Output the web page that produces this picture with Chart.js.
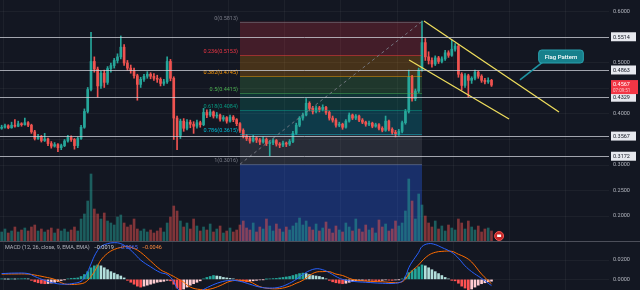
<!DOCTYPE html>
<html>
<head>
<meta charset="utf-8">
<title>Flag Pattern</title>
<script src="https://cdn.jsdelivr.net/npm/chart.js@4/dist/chart.umd.min.js"></script>
<style>
body { margin: 0; background: #131722; }
#wrap { position: relative; width: 640px; height: 290px; overflow: hidden; background: #131722; }
#price { position: absolute; left: 0; top: 0; }
#sep { position: absolute; left: 0; top: 241px; width: 640px; height: 1px; background: #4c4f5a; }
#macd { position: absolute; left: 0; top: 242px; }
</style>
</head>
<body>
<div id="wrap">
  <canvas id="price" width="640" height="241"></canvas>
  <div id="sep"></div>
  <canvas id="macd" width="640" height="48"></canvas>
</div>
<script>
// candles (one per slot, left to right)
const open = [
  0.372,0.374,0.377,0.373,0.378,0.376,0.381,0.379,0.383,
  0.378,0.365,0.352,0.356,0.348,0.351,0.342,0.337,0.340,0.334,
  0.338,0.347,0.354,0.350,0.338,0.352,0.374,0.405,0.448,0.503,
  0.488,0.455,0.480,0.462,0.489,0.495,0.505,0.512,0.531,0.500,
  0.490,0.485,0.475,0.458,0.468,0.474,0.478,0.474,0.470,0.468,
  0.460,0.463,0.503,0.470,0.392,0.358,0.386,0.372,0.384,0.380,
  0.376,0.383,0.379,0.403,0.398,0.404,0.396,0.398,0.390,0.393,
  0.386,0.394,0.389,0.381,0.368,0.357,0.352,0.347,0.353,0.349,
  0.345,0.350,0.342,0.344,0.348,0.341,0.339,0.343,0.341,0.346,
  0.362,0.378,0.392,0.398,0.421,0.411,0.405,0.412,0.409,0.413,
  0.403,0.392,0.388,0.378,0.380,0.374,0.386,0.398,0.392,0.396,
  0.388,0.384,0.380,0.382,0.376,0.379,0.372,0.368,0.386,0.370,
  0.364,0.361,0.366,0.383,0.405,0.472,0.430,0.445,0.486,0.540,
  0.512,0.505,0.498,0.510,0.503,0.508,0.520,0.515,0.527,0.533,
  0.478,0.456,0.475,0.466,0.470,0.482,0.474,0.466,0.463,0.466
];
const high = [
  0.378,0.380,0.379,0.384,0.389,0.386,0.383,0.392,0.385,
  0.380,0.368,0.360,0.358,0.362,0.353,0.346,0.344,0.342,0.341,
  0.350,0.358,0.357,0.352,0.355,0.378,0.410,0.452,0.560,0.512,
  0.492,0.484,0.486,0.493,0.500,0.509,0.518,0.553,0.536,0.505,
  0.496,0.490,0.478,0.472,0.478,0.483,0.481,0.479,0.476,0.471,
  0.468,0.512,0.507,0.473,0.396,0.390,0.391,0.389,0.388,0.385,
  0.388,0.386,0.411,0.408,0.409,0.406,0.403,0.400,0.397,0.395,
  0.398,0.397,0.391,0.383,0.371,0.360,0.356,0.358,0.355,0.352,
  0.355,0.353,0.348,0.352,0.350,0.344,0.347,0.345,0.350,0.366,
  0.382,0.395,0.402,0.430,0.424,0.415,0.416,0.415,0.418,0.415,
  0.406,0.396,0.391,0.384,0.382,0.389,0.402,0.400,0.399,0.398,
  0.391,0.386,0.386,0.384,0.382,0.381,0.375,0.396,0.388,0.373,
  0.368,0.370,0.386,0.409,0.486,0.476,0.449,0.490,0.582,0.548,
  0.522,0.510,0.514,0.513,0.512,0.525,0.524,0.545,0.538,0.536,
  0.481,0.479,0.478,0.473,0.486,0.484,0.477,0.470,0.471,0.468
];
const low = [
  0.370,0.372,0.371,0.372,0.374,0.375,0.376,0.378,0.375,
  0.362,0.349,0.350,0.345,0.346,0.338,0.333,0.335,0.326,0.330,
  0.336,0.345,0.346,0.331,0.334,0.350,0.372,0.402,0.445,0.482,
  0.433,0.450,0.452,0.458,0.482,0.490,0.500,0.508,0.495,0.486,
  0.480,0.470,0.427,0.452,0.464,0.470,0.469,0.466,0.462,0.455,
  0.456,0.460,0.465,0.350,0.330,0.352,0.366,0.369,0.373,0.362,
  0.372,0.374,0.377,0.393,0.395,0.392,0.392,0.386,0.386,0.382,
  0.384,0.385,0.377,0.364,0.353,0.348,0.343,0.345,0.344,0.340,
  0.343,0.338,0.318,0.340,0.337,0.334,0.336,0.336,0.338,0.344,
  0.360,0.375,0.388,0.396,0.406,0.400,0.402,0.404,0.406,0.399,
  0.388,0.384,0.374,0.375,0.370,0.372,0.384,0.389,0.389,0.385,
  0.381,0.376,0.377,0.373,0.374,0.369,0.365,0.366,0.367,0.360,
  0.355,0.358,0.363,0.380,0.402,0.425,0.426,0.442,0.484,0.505,
  0.498,0.492,0.495,0.499,0.500,0.505,0.511,0.513,0.523,0.472,
  0.447,0.452,0.433,0.460,0.467,0.470,0.462,0.459,0.460,0.454
];
const close = [
  0.374,0.377,0.373,0.378,0.376,0.381,0.379,0.383,0.378,
  0.365,0.352,0.356,0.348,0.351,0.342,0.337,0.340,0.334,0.338,
  0.347,0.354,0.350,0.338,0.352,0.374,0.405,0.448,0.503,0.488,
  0.455,0.480,0.462,0.489,0.495,0.505,0.512,0.531,0.500,0.490,
  0.485,0.475,0.458,0.468,0.474,0.478,0.474,0.470,0.468,0.460,
  0.463,0.503,0.470,0.392,0.358,0.386,0.372,0.384,0.380,0.376,
  0.383,0.379,0.403,0.398,0.404,0.396,0.398,0.390,0.393,0.386,
  0.394,0.389,0.381,0.368,0.357,0.352,0.347,0.353,0.349,0.345,
  0.350,0.342,0.344,0.348,0.341,0.339,0.343,0.341,0.346,0.362,
  0.378,0.392,0.398,0.421,0.411,0.405,0.412,0.409,0.413,0.403,
  0.392,0.388,0.378,0.380,0.374,0.386,0.398,0.392,0.396,0.388,
  0.384,0.380,0.382,0.376,0.379,0.372,0.368,0.386,0.370,0.364,
  0.361,0.366,0.383,0.405,0.472,0.430,0.445,0.486,0.540,0.512,
  0.505,0.498,0.510,0.503,0.508,0.520,0.515,0.527,0.533,0.478,
  0.456,0.475,0.466,0.470,0.482,0.474,0.466,0.463,0.466,0.4567
];
// volume in millions
const volume = [
  4.5,6,4,5,7,4.5,5.5,6.5,5,
  7,8,5,6,4.5, 5.5,6.5,4,6,5, 6,4.5,5.5,7,5,
  11,13.5,20,33.5,16,13.5, 11,14,10,9,8,12, 13,9,7,8,11,6,
  5,6,4.5,5.5,4,5,6.5,4.5, 9,12,17.5,15, 10,7,9,6,11,7.5,5,
  7,5.5,8.5,4.5,6,7.5,4,5,6.5,4.5,5.5,
  8,10,6.5,5.5,9,4.5,7,6,11,7.5,5,8.5,6,4.5,7,5.5,
  7.5,9,11.5,8,10, 7,5.5,8.5,5,6.5,9.5,6,4,7.5,5.5,4.5,9,7,
  5,11,6,4.5,8,5.5,6.5,4,10.5,7,8.5,5,6,10,7.5,9,
  15,31,20,11,23.5,18, 12.5,9,7,10,6,7.5,5,8,6.5,5.5,
  11,9,6,10,7,5.5,7.5,4.5,6,6.5,5
];
const macdHist = [
  0.0005,0.0003,0.0002,0.0004,0.0003,0.0005,0.0006,0.0008,0.0005,
  -0.001,-0.0025,-0.0035,-0.0042,-0.0045,-0.0043,-0.0038,-0.003,-0.0022,
  -0.0012,-0.0003,0.0005,0.001,0.0012,0.0015,
  0.003,0.005,0.008,0.012,0.014,0.015,
  0.014,0.012,0.010,0.008,0.0065,0.005,
  0.0035,0.0015,-0.001,-0.003,-0.005,
  -0.007,-0.008,-0.007,-0.006,-0.005,
  -0.004,-0.003,-0.0025,-0.002,-0.001,-0.0015,
  -0.005,-0.009,-0.011,-0.010,
  -0.008,-0.006,-0.0045,-0.003,-0.0015,
  0.0005,0.002,0.003,0.004,0.0035,0.003,0.002,0.0015,
  0.001,0.0005,-0.0005,-0.001,
  -0.002,-0.0025,-0.002,-0.0015,-0.001,-0.0005,
  -0.0003,0.0002,0.0005,0.0008,0.001,0.0015,0.002,0.0025,
  0.003,0.004,0.005,0.006,0.0065,0.006,
  0.005,0.004,0.0035,0.003,0.002,
  0.0005,-0.001,-0.0025,-0.0035,-0.004,-0.0045,-0.004,-0.003,
  -0.002,-0.0015,-0.0015,-0.001,-0.0012,-0.0008,-0.001,-0.0012,
  -0.0015,-0.001,-0.0005,-0.0008,-0.001,-0.0006,-0.0003,0.0005,
  0.0025,0.007,0.009,0.011,0.013,0.015,0.014,
  0.012,0.010,0.008,0.006,0.004,0.002,0.0005,
  -0.001,-0.0015,-0.004,-0.007,-0.009,
  -0.011,-0.010,-0.008,-0.006,-0.0045,-0.0035,-0.0025,-0.0019
];
const lineIdx = [0,4,8,10,13,16,19,22,24,25,26,27,28,29,30,32,34,36,38,40,
  42,45,48,50,52,53,55,57,60,63,66,69,72,75,78,81,84,87,89,91,
  93,95,97,99,101,103,106,110,115,119,121,122,123,124,126,127,129,131,133,136,
  138,140,142,145,148];
const macdLine = [0.006,0.0065,0.006,0.003,-0.001,-0.004,-0.005,-0.004,-0.002,0.002,
  0.008,0.016,0.024,0.030,0.034,0.037,0.038,0.037,0.033,0.027,
  0.020,0.013,0.007,0.005,-0.002,-0.009,-0.014,-0.015,-0.012,-0.007,
  -0.003,-0.001,-0.002,-0.005,-0.008,-0.009,-0.008,-0.004,0,0.005,
  0.009,0.011,0.010,0.007,0.003,0,-0.002,-0.003,-0.004,-0.004,
  -0.002,0.003,0.012,0.018,0.028,0.034,0.037,0.036,0.033,0.028,
  0.022,0.014,0.008,0.001,-0.0065];
const signalLine = [0.0055,0.0056,0.0055,0.0045,0.0025,0,-0.0047,-0.0052,-0.0045,-0.0035,
  -0.001,0.003,0.008,0.014,0.020,0.027,0.031,0.033,0.034,0.032,
  0.028,0.019,0.010,0.0065,0.003,0.001,-0.003,-0.008,-0.0105,-0.010,
  -0.0065,-0.002,-0.001,-0.0025,-0.0075,-0.0095,-0.0095,-0.007,-0.004,-0.001,
  0.004,0.0075,0.008,0.008,0.0055,0.004,0,-0.0018,-0.0025,-0.0034,
  -0.0025,0.0005,0.005,0.009,0.015,0.019,0.025,0.028,0.029,0.029,
  0.026,0.023,0.018,0.0055,-0.0046];

const priceTicks = [0.2, 0.25, 0.3, 0.35, 0.4, 0.45, 0.5, 0.55, 0.6];
const hiddenTicks = [0.35, 0.45, 0.55];
const macdTicks = [0, 0.02];
const levels = [0.5514, 0.4863, 0.4329, 0.3567, 0.3172];
const lastPrice = 0.4567;
const countdown = '07:09:51';

const fibLevels = [0, 0.236, 0.382, 0.5, 0.618, 0.786, 1, 1.618];
const fibColors = ['#787b86', '#f23645', '#ff9800', '#4caf50', '#089981', '#00bcd4', '#787b86', '#2962ff'];
const fibTop = 0.5813, fibBottom = 0.3016, fibStart = 72, fibEnd = 127;

const flagUpper = [{x: 127.6, y: 0.5824}, {x: 168.4, y: 0.4039}];
const flagLower = [{x: 123.1, y: 0.5059}, {x: 153.3, y: 0.3902}];
const note = {text: 'Flag Pattern', x: 169, y: 0.5127, tipX: 156.6, tipY: 0.4667};
const marker = {x: 150.3, v: 2.5};

const xMin = -0.5, xMax = 183.5;
const gridX = [9, 26, 43, 60, 77, 94, 111, 128, 145, 162, 179];
const upColor = '#26a69a', downColor = '#ef5350';
const gridColor = 'rgba(255,255,255,0.045)';
const tickColor = '#b2b5be';
const fontFamily = 'Roboto, "DejaVu Sans", sans-serif';

Chart.defaults.font.family = fontFamily;

function rgba(hex, a) {
  const n = parseInt(hex.slice(1), 16);
  return `rgba(${n >> 16},${(n >> 8) & 255},${n & 255},${a})`;
}
function fibPrice(lv) { return fibTop - lv * (fibTop - fibBottom); }
function isUp(i) { return close[i] >= open[i]; }

const xScale = {
  type: 'linear', min: xMin, max: xMax, offset: false,
  ticks: { display: false },
  grid: { color: gridColor, drawTicks: false },
  border: { display: false },
  afterBuildTicks: s => { s.ticks = gridX.map(v => ({ value: v })); }
};

const overlay = {
  id: 'overlay',
  beforeDatasetsDraw(chart) {
    const { ctx, chartArea: a, scales: { x, y } } = chart;
    const x0 = x.getPixelForValue(fibStart), x1 = x.getPixelForValue(fibEnd);
    ctx.save();
    ctx.beginPath(); ctx.rect(a.left, a.top, a.right - a.left, a.bottom - a.top); ctx.clip();
    for (let k = 0; k < fibLevels.length - 1; k++) {
      const yA = y.getPixelForValue(fibPrice(fibLevels[k]));
      const yB = y.getPixelForValue(fibPrice(fibLevels[k + 1]));
      ctx.fillStyle = rgba(fibColors[k + 1], k === fibLevels.length - 2 ? 0.32 : 0.22);
      ctx.fillRect(x0, yA, x1 - x0, yB - yA);
    }
    ctx.restore();
  },
  afterDatasetsDraw(chart) {
    const { ctx, chartArea: a, scales: { x, y, v } } = chart;
    const x0 = x.getPixelForValue(fibStart), x1 = x.getPixelForValue(fibEnd);
    ctx.save();
    ctx.beginPath(); ctx.rect(a.left, a.top, a.right - a.left, a.bottom - a.top); ctx.clip();

    // fib level lines and labels
    ctx.lineWidth = 1;
    ctx.font = '5.5px ' + fontFamily;
    ctx.textAlign = 'right';
    ctx.textBaseline = 'bottom';
    fibLevels.forEach((lv, k) => {
      const p = fibPrice(lv);
      const py = Math.round(y.getPixelForValue(p)) + 0.5;
      if (py > a.bottom) return;
      ctx.strokeStyle = rgba(fibColors[k], 0.5);
      ctx.beginPath(); ctx.moveTo(x0, py); ctx.lineTo(x1, py); ctx.stroke();
      ctx.fillStyle = fibColors[k];
      ctx.fillText(lv + '(' + p.toFixed(4) + ')', x0 - 2, py - 1);
    });
    // fib trend line
    ctx.strokeStyle = 'rgba(120,123,134,0.9)';
    ctx.setLineDash([3, 3]);
    ctx.beginPath();
    ctx.moveTo(x0, y.getPixelForValue(fibBottom));
    ctx.lineTo(x1, y.getPixelForValue(fibTop));
    ctx.stroke();
    ctx.setLineDash([]);

    // horizontal levels
    ctx.strokeStyle = 'rgba(209,212,220,0.75)';
    levels.forEach(p => {
      const py = Math.round(y.getPixelForValue(p)) + 0.5;
      ctx.beginPath(); ctx.moveTo(a.left, py); ctx.lineTo(a.right, py); ctx.stroke();
    });

    // callout
    ctx.font = '500 6px ' + fontFamily;
    const tw = ctx.measureText(note.text).width;
    const bw = tw + 12, bh = 13;
    const bx = x.getPixelForValue(note.x) - bw / 2, by = y.getPixelForValue(note.y) - bh / 2;
    ctx.strokeStyle = '#1f95a3';
    ctx.lineWidth = 1.6;
    ctx.beginPath();
    ctx.moveTo(bx + 4, by + bh - 1);
    ctx.lineTo(x.getPixelForValue(note.tipX), y.getPixelForValue(note.tipY));
    ctx.stroke();
    ctx.fillStyle = '#17808c';
    ctx.strokeStyle = '#2aa3b0';
    ctx.lineWidth = 1;
    ctx.beginPath();
    ctx.roundRect(bx, by, bw, bh, 3);
    ctx.fill(); ctx.stroke();
    ctx.fillStyle = '#ffffff';
    ctx.textAlign = 'center';
    ctx.textBaseline = 'middle';
    ctx.fillText(note.text, bx + bw / 2, by + bh / 2 + 0.5);

    // event marker
    const mx = x.getPixelForValue(marker.x), my = v.getPixelForValue(marker.v);
    ctx.fillStyle = '#c62828';
    ctx.strokeStyle = '#ef5350';
    ctx.beginPath(); ctx.arc(mx, my, 4.5, 0, Math.PI * 2); ctx.fill(); ctx.stroke();
    ctx.fillStyle = '#ffffff';
    ctx.fillRect(mx - 2, my - 1.5, 4, 2.5);
    ctx.restore();
  },
  afterDraw(chart) {
    const { ctx, chartArea: a, scales: { y } } = chart;
    ctx.save();
    ctx.font = '5.5px ' + fontFamily;
    ctx.textAlign = 'left';
    ctx.textBaseline = 'middle';
    levels.forEach(p => {
      const py = y.getPixelForValue(p);
      ctx.fillStyle = '#e6e8ee';
      ctx.fillRect(a.right + 2, py - 4.5, 25, 9);
      ctx.fillStyle = '#131722';
      ctx.fillText(p.toFixed(4), a.right + 4, py + 0.5);
    });
    const py = y.getPixelForValue(lastPrice);
    ctx.fillStyle = '#f23645';
    ctx.fillRect(a.right + 2, py - 5, 27, 14);
    ctx.fillStyle = '#ffffff';
    ctx.fillText(lastPrice.toFixed(4), a.right + 4, py);
    ctx.font = '4.5px ' + fontFamily;
    ctx.fillStyle = 'rgba(255,220,220,0.85)';
    ctx.fillText(countdown, a.right + 4, py + 5.5);
    ctx.restore();
  }
};

new Chart(document.getElementById('price'), {
  type: 'bar',
  data: {
    datasets: [
      {
        type: 'line', data: flagUpper, borderColor: '#eedd5c', borderWidth: 1.3,
        pointRadius: 0, yAxisID: 'y', order: -2
      },
      {
        type: 'line', data: flagLower, borderColor: '#eedd5c', borderWidth: 1.3,
        pointRadius: 0, yAxisID: 'y', order: -1
      },
      {
        data: close.map((c, i) => ({ x: i, y: [open[i], c] })),
        backgroundColor: ctx => isUp(ctx.dataIndex) ? upColor : downColor,
        barThickness: 2, minBarLength: 1, grouped: false, yAxisID: 'y', order: 0
      },
      {
        data: close.map((c, i) => ({ x: i, y: [low[i], high[i]] })),
        backgroundColor: ctx => isUp(ctx.dataIndex) ? upColor : downColor,
        barThickness: 1, grouped: false, yAxisID: 'y', order: 1
      },
      {
        data: volume.map((vol, i) => ({ x: i, y: vol })),
        backgroundColor: ctx => isUp(ctx.dataIndex) ? rgba(upColor, 0.5) : rgba(downColor, 0.5),
        barThickness: 2, grouped: false, yAxisID: 'v', order: 3
      }
    ]
  },
  options: {
    responsive: false,
    devicePixelRatio: 1,
    animation: false,
    events: [],
    layout: { padding: 0 },
    plugins: { legend: { display: false }, tooltip: { enabled: false } },
    scales: {
      x: xScale,
      y: {
        position: 'right', min: 0.151, max: 0.6235,
        afterBuildTicks: s => { s.ticks = priceTicks.map(v => ({ value: v })); },
        afterFit: s => { s.width = 31; s.paddingTop = 0; s.paddingBottom = 0; },
        ticks: {
          color: tickColor, padding: 4, font: { size: 5.5 },
          callback: v => hiddenTicks.some(h => Math.abs(h - v) < 1e-6) ? '' : v.toFixed(4)
        },
        grid: { color: gridColor, drawTicks: false },
        border: { display: false }
      },
      v: { display: false, min: 0, max: 120.5 }
    }
  },
  plugins: [overlay]
});

const macdLegend = {
  id: 'macdLegend',
  afterDraw(chart) {
    const { ctx } = chart;
    const fmt = n => (n < 0 ? '\u2212' : '') + Math.abs(n).toFixed(4);
    const parts = [
      ['MACD (12, 26, close, 9, EMA, EMA)', '#b2b5be'],
      [fmt(macdHist[macdHist.length - 1]), '#d1d4dc'],
      [fmt(macdLine[macdLine.length - 1]), '#4d6bff'],
      [fmt(signalLine[signalLine.length - 1]), '#ff8a3d']
    ];
    ctx.save();
    ctx.font = '5.5px ' + fontFamily;
    ctx.textAlign = 'left';
    ctx.textBaseline = 'middle';
    let px = 5;
    parts.forEach(([t, c]) => {
      ctx.fillStyle = c;
      ctx.fillText(t, px, 5.5);
      px += ctx.measureText(t).width + 4;
    });
    ctx.restore();
  }
};

new Chart(document.getElementById('macd'), {
  type: 'bar',
  data: {
    datasets: [
      {
        type: 'line', data: lineIdx.map((i, k) => ({ x: i, y: macdLine[k] })),
        borderColor: '#2962ff', borderWidth: 1, pointRadius: 0, tension: 0.4, order: 0
      },
      {
        type: 'line', data: lineIdx.map((i, k) => ({ x: i, y: signalLine[k] })),
        borderColor: '#ff6d00', borderWidth: 1, pointRadius: 0, tension: 0.4, order: 1
      },
      {
        data: macdHist.map((h, i) => ({ x: i, y: h })),
        backgroundColor: ctx => {
          const i = ctx.dataIndex, h = macdHist[i], prev = i > 0 ? macdHist[i - 1] : 0;
          if (h >= 0) return h >= prev ? '#26a69a' : '#b2dfdb';
          return h < prev ? '#ff5252' : '#ffcdd2';
        },
        barThickness: 2, grouped: false, order: 2
      }
    ]
  },
  options: {
    responsive: false,
    devicePixelRatio: 1,
    animation: false,
    events: [],
    layout: { padding: 0 },
    plugins: { legend: { display: false }, tooltip: { enabled: false } },
    scales: {
      x: xScale,
      y: {
        position: 'right', min: -0.011, max: 0.0387,
        afterBuildTicks: s => { s.ticks = macdTicks.map(v => ({ value: v })); },
        afterFit: s => { s.width = 31; s.paddingTop = 0; s.paddingBottom = 0; },
        ticks: { color: tickColor, padding: 4, font: { size: 5.5 }, callback: v => v.toFixed(4) },
        grid: { color: gridColor, drawTicks: false },
        border: { display: false }
      }
    }
  },
  plugins: [macdLegend]
});
</script>
</body>
</html>
